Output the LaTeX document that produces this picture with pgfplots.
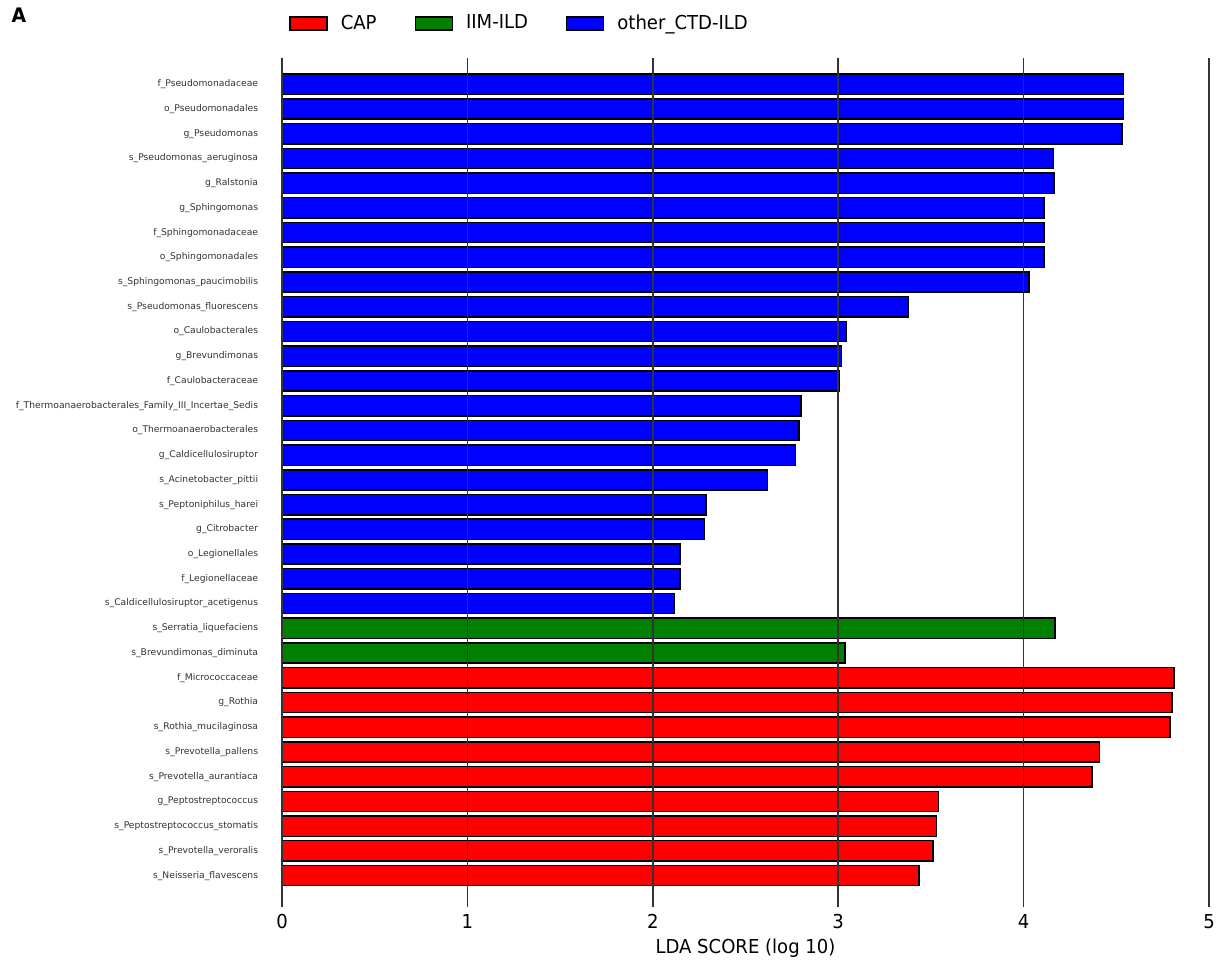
\documentclass[border=0pt]{standalone}
\usepackage{fontspec}
\setmainfont{DejaVu Sans}
\newfontfamily\condfont{DejaVu Sans}[FakeStretch=0.94]
\usepackage{pgfplots}
\pgfplotsset{compat=1.18}
\usepackage{pgfplotstable}
\definecolor{capred}{RGB}{255,0,0}
\definecolor{iimgreen}{RGB}{0,128,0}
\definecolor{ctdblue}{RGB}{0,0,255}

\pgfplotstableread{
i v
0 3.437
1 3.51
2 3.53
3 3.54
4 4.37
5 4.41
6 4.79
7 4.80
8 4.811
}\capdata
\pgfplotstableread{
i v
9 3.037
10 4.17
}\iimdata
\pgfplotstableread{
i v
11 2.116
12 2.147
13 2.147
14 2.278
15 2.287
16 2.618
17 2.769
18 2.789
19 2.80
20 3.006
21 3.017
22 3.046
23 3.378
24 4.03
25 4.11
26 4.11
27 4.11
28 4.165
29 4.16
30 4.53
31 4.54
32 4.54
}\ctddata

\begin{document}
\begin{tikzpicture}
\path[use as bounding box] (-141pt,-26.5pt) rectangle (468pt,453.5pt);
\begin{axis}[
  at={(0,0)}, anchor=south west,
  scale only axis,
  width=463.5pt, height=424.5pt,
  xmin=0, xmax=5, ymin=-1.27, ymax=33.06,
  xbar, bar width=0.82,
  axis on top,
  axis line style={draw=none},
  tick style={draw=none},
  xtick={0,1,2,3,4,5},
  xmajorgrids,
  major grid style={draw=black!80, line width=0.8pt},
  /pgf/number format/assume math mode=true,
  xticklabel style={font=\condfont\fontsize{9.6}{11}\selectfont, anchor=base, yshift=-10.5pt},
  ytick={0,...,32},
  yticklabels={s\_Neisseria\_flavescens, s\_Prevotella\_veroralis, s\_Peptostreptococcus\_stomatis, g\_Peptostreptococcus, s\_Prevotella\_aurantiaca, s\_Prevotella\_pallens, s\_Rothia\_mucilaginosa, g\_Rothia, f\_Micrococcaceae, s\_Brevundimonas\_diminuta, s\_Serratia\_liquefaciens, s\_Caldicellulosiruptor\_acetigenus, f\_Legionellaceae, o\_Legionellales, g\_Citrobacter, s\_Peptoniphilus\_harei, s\_Acinetobacter\_pittii, g\_Caldicellulosiruptor, o\_Thermoanaerobacterales, f\_Thermoanaerobacterales\_Family\_III\_Incertae\_Sedis, f\_Caulobacteraceae, g\_Brevundimonas, o\_Caulobacterales, s\_Pseudomonas\_fluorescens, s\_Sphingomonas\_paucimobilis, o\_Sphingomonadales, f\_Sphingomonadaceae, g\_Sphingomonas, g\_Ralstonia, s\_Pseudomonas\_aeruginosa, g\_Pseudomonas, o\_Pseudomonadales, f\_Pseudomonadaceae},
  yticklabel style={font=\fontsize{4.6}{5}\selectfont, color=black!80, anchor=east, inner sep=0pt, xshift=-7.5pt},
  xlabel={LDA SCORE (log 10)},
  xlabel style={font=\condfont\fontsize{9.6}{11}\selectfont, at={(axis description cs:0.5,0)}, anchor=base, yshift=-23pt},
  legend columns=3,
  legend style={at={(0,1)}, anchor=west, xshift=3.5pt, yshift=17.3pt, draw=none, fill=none, inner sep=0pt,
    font=\condfont\fontsize{9.6}{11}\selectfont,
    nodes={inner sep=0pt},
    /tikz/every odd column/.append style={column sep=6.5pt},
    /tikz/every even column/.append style={column sep=19pt}},
  legend image code/.code={\draw[#1, line width=0.7pt] (0pt,-3.25pt) rectangle (18.5pt,3.25pt);},
]
\addplot[fill=capred, draw=black, line width=0.75pt, bar shift=0pt] table[x=v, y=i] {\capdata};
\addlegendentry{CAP}
\addplot[fill=iimgreen, draw=black, line width=0.75pt, bar shift=0pt] table[x=v, y=i] {\iimdata};
\addlegendentry{IIM-ILD}
\addplot[fill=ctdblue, draw=black, line width=0.75pt, bar shift=0pt] table[x=v, y=i] {\ctddata};
\addlegendentry{other\_CTD-ILD}
\end{axis}
\node[font=\condfont\bfseries\fontsize{10}{12}\selectfont] at (-131.5pt,446pt) {A};
\end{tikzpicture}
\end{document}
